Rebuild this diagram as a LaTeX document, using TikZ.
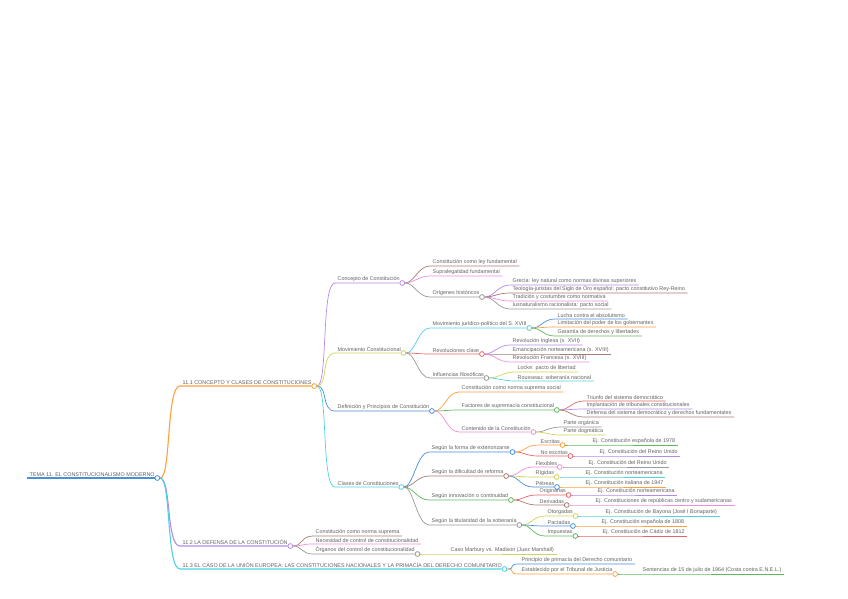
\documentclass[tikz,border=0pt]{standalone}
\usepackage{fontspec}
\setmainfont{Liberation Sans}
\usetikzlibrary{positioning}

\definecolor{mBlue}{HTML}{4A90D9}
\definecolor{mOrange}{HTML}{FFA040}
\definecolor{mPurple}{HTML}{B48CE8}
\definecolor{mBrown}{HTML}{A57C70}
\definecolor{mPink}{HTML}{EE8EDC}
\definecolor{mGray}{HTML}{9A9A9A}
\definecolor{mYellow}{HTML}{D2D25A}
\definecolor{mCyan}{HTML}{4FD3E3}
\definecolor{mRed}{HTML}{E86464}
\definecolor{mGreen}{HTML}{5DB85D}
\definecolor{txt}{HTML}{606060}

\begin{document}
\begin{tikzpicture}[x=1pt, y=-1pt,
    every node/.style={font=\fontsize{5.4}{6}\selectfont, text=txt},
    lbl/.style={anchor=south west, inner xsep=2.5pt, inner ysep=1.2pt},
    dot/.style={circle, draw=#1, fill=white, line width=0.8pt, minimum size=4.8pt, inner sep=0pt},
    br/.style={line width=0.7pt},
    main/.style={line width=1.1pt}]

  \useasboundingbox (0,0) rectangle (848,599);

  % root
  \node[lbl] (root) at (27,478) {TEMA 11. EL CONSTITUCIONALISMO MODERNO};
  \node[dot=mBlue] (rootD) at (root.south east) {};
  \draw[main, mBlue] (root.south west) -- (rootD);

  % level 1
  \node[lbl] (cc)  at (180,386) {11.1 CONCEPTO Y CLASES DE CONSTITUCIONES};
  \node[lbl] (def) at (180,546) {11.2 LA DEFENSA DE LA CONSTITUCIÓN};
  \node[lbl] (ue)  at (180,569) {11.3 EL CASO DE LA UNIÓN EUROPEA: LAS CONSTITUCIONES NACIONALES Y LA PRIMACÍA DEL DERECHO COMUNITARIO};
  \node[dot=mOrange] (ccD)  at (cc.south east) {};
  \node[dot=mPurple] (defD) at (def.south east) {};
  \node[dot=mCyan]   (ueD)  at (ue.south east) {};
  \draw[main, mOrange] (rootD) .. controls +(14,0) and +(-14,0) .. (cc.south west) -- (ccD);
  \draw[main, mPurple] (rootD) .. controls +(14,0) and +(-14,0) .. (def.south west) -- (defD);
  \draw[main, mCyan]   (rootD) .. controls +(14,0) and +(-14,0) .. (ue.south west) -- (ueD);

  % 11.1
  \node[lbl] (concepto) at (335,283) {Concepto de Constitución};
  \node[lbl] (movim)    at (335,353) {Movimiento Constitucional};
  \node[lbl] (definic)  at (335,411) {Definición y Principios de Constitución};
  \node[lbl] (clases)   at (335,487) {Clases de Constituciones};
  \node[dot=mPurple] (conceptoD) at (concepto.south east) {};
  \node[dot=mYellow] (movimD)    at (movim.south east) {};
  \node[dot=mBlue]   (definicD)  at (definic.south east) {};
  \node[dot=mCyan]   (clasesD)   at (clases.south east) {};
  \draw[br, mPurple] (ccD) .. controls +(14,0) and +(-14,0) .. (concepto.south west) -- (conceptoD);
  \draw[br, mYellow] (ccD) .. controls +(14,0) and +(-14,0) .. (movim.south west) -- (movimD);
  \draw[br, mBlue]   (ccD) .. controls +(14,0) and +(-14,0) .. (definic.south west) -- (definicD);
  \draw[br, mCyan]   (ccD) .. controls +(14,0) and +(-14,0) .. (clases.south west) -- (clasesD);

  % concepto
  \node[lbl] (ley)    at (430,266) {Constitución como ley fundamental};
  \node[lbl] (supra)  at (430,276) {Supralegalidad fundamental};
  \node[lbl] (origen) at (430,297) {Orígenes históricos};
  \node[dot=mGray] (origenD) at (origen.south east) {};
  \draw[br, mBrown] (conceptoD) .. controls +(12,0) and +(-12,0) .. (ley.south west) -- (ley.south east);
  \draw[br, mPink]  (conceptoD) .. controls +(12,0) and +(-12,0) .. (supra.south west) -- (supra.south east);
  \draw[br, mGray]  (conceptoD) .. controls +(12,0) and +(-12,0) .. (origen.south west) -- (origenD);

  \node[lbl] (grecia) at (510,285) {Grecia: ley natural como normas divinas superiores};
  \node[lbl] (teolog) at (510,293) {Teología-juristas del Siglo de Oro español: pacto constitutivo Rey-Reino};
  \node[lbl] (tradic) at (510,301) {Tradición y costumbre como normativa};
  \node[lbl] (iusnat) at (510,309) {Iusnaturalismo racionalista: pacto social};
  \draw[br, mPurple] (origenD) .. controls +(12,0) and +(-12,0) .. (grecia.south west) -- (grecia.south east);
  \draw[br, mBrown]  (origenD) .. controls +(12,0) and +(-12,0) .. (teolog.south west) -- (teolog.south east);
  \draw[br, mPink]   (origenD) .. controls +(12,0) and +(-12,0) .. (tradic.south west) -- (tradic.south east);
  \draw[br, mGray]   (origenD) .. controls +(12,0) and +(-12,0) .. (iusnat.south west) -- (iusnat.south east);

  % movimiento
  \node[lbl] (movjur) at (430,328) {Movimiento jurídico-político del S. XVIII};
  \node[lbl] (revol)  at (430,354) {Revoluciones clave};
  \node[lbl] (influ)  at (430,378) {Influencias filosóficas};
  \node[dot=mCyan] (movjurD) at (movjur.south east) {};
  \node[dot=mRed]  (revolD)  at (revol.south east) {};
  \node[dot=mGray] (influD)  at (influ.south east) {};
  \draw[br, mCyan] (movimD) .. controls +(12,0) and +(-12,0) .. (movjur.south west) -- (movjurD);
  \draw[br, mRed]  (movimD) .. controls +(12,0) and +(-12,0) .. (revol.south west) -- (revolD);
  \draw[br, mGray] (movimD) .. controls +(12,0) and +(-12,0) .. (influ.south west) -- (influD);

  \node[lbl] (lucha)  at (555,319) {Lucha contra el absolutismo};
  \node[lbl] (limit)  at (555,327) {Limitación del poder de los gobernantes};
  \node[lbl] (garant) at (555,336) {Garantía de derechos y libertades};
  \draw[br, mBlue]   (movjurD) .. controls +(12,0) and +(-12,0) .. (lucha.south west) -- (lucha.south east);
  \draw[br, mOrange] (movjurD) .. controls +(12,0) and +(-12,0) .. (limit.south west) -- (limit.south east);
  \draw[br, mGreen]  (movjurD) .. controls +(12,0) and +(-12,0) .. (garant.south west) -- (garant.south east);

  \node[lbl] (inglesa)  at (510,345) {Revolución Inglesa (s. XVII)};
  \node[lbl] (emancip)  at (510,354) {Emancipación norteamericana (s. XVIII)};
  \node[lbl] (francesa) at (510,362) {Revolución Francesa (s. XVIII)};
  \draw[br, mPurple] (revolD) .. controls +(12,0) and +(-12,0) .. (inglesa.south west) -- (inglesa.south east);
  \draw[br, mBrown]  (revolD) .. controls +(12,0) and +(-12,0) .. (emancip.south west) -- (emancip.south east);
  \draw[br, mPink]   (revolD) .. controls +(12,0) and +(-12,0) .. (francesa.south west) -- (francesa.south east);

  \node[lbl] (locke)    at (515,372) {Locke: pacto de libertad};
  \node[lbl] (rousseau) at (515,381) {Rousseau: soberanía nacional};
  \draw[br, mYellow] (influD) .. controls +(12,0) and +(-12,0) .. (locke.south west) -- (locke.south east);
  \draw[br, mCyan]   (influD) .. controls +(12,0) and +(-12,0) .. (rousseau.south west) -- (rousseau.south east);

  % definicion
  \node[lbl] (normasup)  at (459,392) {Constitución como norma suprema social};
  \node[lbl] (factores)  at (459,410) {Factores de supremacía constitucional};
  \node[lbl] (contenido) at (459,432) {Contenido de la Constitución};
  \node[dot=mGreen] (factoresD)  at (factores.south east) {};
  \node[dot=mPink]  (contenidoD) at (contenido.south east) {};
  \draw[br, mOrange] (definicD) .. controls +(12,0) and +(-12,0) .. (normasup.south west) -- (normasup.south east);
  \draw[br, mGreen]  (definicD) .. controls +(12,0) and +(-12,0) .. (factores.south west) -- (factoresD);
  \draw[br, mPink]   (definicD) .. controls +(12,0) and +(-12,0) .. (contenido.south west) -- (contenidoD);

  \node[lbl] (triunfo) at (584,401) {Triunfo del sistema democrático};
  \node[lbl] (tribun)  at (584,409) {Implantación de tribunales constitucionales};
  \node[lbl] (defensa) at (584,417) {Defensa del sistema democrático y derechos fundamentales};
  \draw[br, mRed]    (factoresD) .. controls +(12,0) and +(-12,0) .. (triunfo.south west) -- (triunfo.south east);
  \draw[br, mPurple] (factoresD) .. controls +(12,0) and +(-12,0) .. (tribun.south west) -- (tribun.south east);
  \draw[br, mBrown]  (factoresD) .. controls +(12,0) and +(-12,0) .. (defensa.south west) -- (defensa.south east);

  \node[lbl] (organica) at (561,427) {Parte orgánica};
  \node[lbl] (dogmat)   at (561,435) {Parte dogmática};
  \draw[br, mGray]   (contenidoD) .. controls +(12,0) and +(-12,0) .. (organica.south west) -- (organica.south east);
  \draw[br, mYellow] (contenidoD) .. controls +(12,0) and +(-12,0) .. (dogmat.south west) -- (dogmat.south east);

  % clases
  \node[lbl] (forma)   at (429,452) {Según la forma de exteriorizarse};
  \node[lbl] (dificul) at (429,476) {Según la dificultad de reforma};
  \node[lbl] (innov)   at (429,500) {Según innovación o continuidad};
  \node[lbl] (titular) at (429,525) {Según la titularidad de la soberanía};
  \node[dot=mBlue]  (formaD)   at (forma.south east) {};
  \node[dot=mBrown] (dificulD) at (dificul.south east) {};
  \node[dot=mGreen] (innovD)   at (innov.south east) {};
  \node[dot=mGray]  (titularD) at (titular.south east) {};
  \draw[br, mBlue]  (clasesD) .. controls +(12,0) and +(-12,0) .. (forma.south west) -- (formaD);
  \draw[br, mBrown] (clasesD) .. controls +(12,0) and +(-12,0) .. (dificul.south west) -- (dificulD);
  \draw[br, mGreen] (clasesD) .. controls +(12,0) and +(-12,0) .. (innov.south west) -- (innovD);
  \draw[br, mGray]  (clasesD) .. controls +(12,0) and +(-12,0) .. (titular.south west) -- (titularD);

  \node[lbl] (escritas) at (538,445) {Escritas};
  \node[lbl] (noescr)   at (538,456) {No escritas};
  \node[dot=mOrange] (escritasD) at (escritas.south east) {};
  \node[dot=mRed]    (noescrD)   at (noescr.south east) {};
  \draw[br, mOrange] (formaD) .. controls +(12,0) and +(-12,0) .. (escritas.south west) -- (escritasD);
  \draw[br, mRed]    (formaD) .. controls +(12,0) and +(-12,0) .. (noescr.south west) -- (noescrD);
  \node[lbl] (ejEsp) at (590,445) {Ej. Constitución española de 1978};
  \node[lbl] (ejRU)  at (597,456) {Ej. Constitución del Reino Unido};
  \draw[br, mGreen]  (escritasD) .. controls +(12,0) and +(-12,0) .. (ejEsp.south west) -- (ejEsp.south east);
  \draw[br, mPurple] (noescrD) .. controls +(12,0) and +(-12,0) .. (ejRU.south west) -- (ejRU.south east);

  \node[lbl] (flex)    at (533,467) {Flexibles};
  \node[lbl] (rigid)   at (533,477) {Rígidas};
  \node[lbl] (petreas) at (533,487) {Pétreas};
  \node[dot=mPink]   (flexD)    at (flex.south east) {};
  \node[dot=mYellow] (rigidD)   at (rigid.south east) {};
  \node[dot=mBlue]   (petreasD) at (petreas.south east) {};
  \draw[br, mPink]   (dificulD) .. controls +(12,0) and +(-12,0) .. (flex.south west) -- (flexD);
  \draw[br, mYellow] (dificulD) .. controls +(12,0) and +(-12,0) .. (rigid.south west) -- (rigidD);
  \draw[br, mBlue]   (dificulD) .. controls +(12,0) and +(-12,0) .. (petreas.south west) -- (petreasD);
  \node[lbl] (ejFlex) at (586,467) {Ej. Constitución del Reino Unido};
  \node[lbl] (ejRig)  at (583,477) {Ej. Constitución norteamericana};
  \node[lbl] (ejPet)  at (583,487) {Ej. Constitución italiana de 1947};
  \draw[br, mGray]   (flexD) .. controls +(12,0) and +(-12,0) .. (ejFlex.south west) -- (ejFlex.south east);
  \draw[br, mCyan]   (rigidD) .. controls +(12,0) and +(-12,0) .. (ejRig.south west) -- (ejRig.south east);
  \draw[br, mOrange] (petreasD) .. controls +(12,0) and +(-12,0) .. (ejPet.south west) -- (ejPet.south east);

  \node[lbl] (orig)  at (537,495) {Originarias};
  \node[lbl] (deriv) at (537,505) {Derivadas};
  \node[dot=mRed]   (origD)  at (orig.south east) {};
  \node[dot=mBrown] (derivD) at (deriv.south east) {};
  \draw[br, mRed]   (innovD) .. controls +(12,0) and +(-12,0) .. (orig.south west) -- (origD);
  \draw[br, mBrown] (innovD) .. controls +(12,0) and +(-12,0) .. (deriv.south west) -- (derivD);
  \node[lbl] (ejOrig)  at (595,495) {Ej. Constitución norteamericana};
  \node[lbl] (ejDeriv) at (593,505) {Ej. Constituciones de repúblicas centro y sudamericanas};
  \draw[br, mPurple] (origD) .. controls +(12,0) and +(-12,0) .. (ejOrig.south west) -- (ejOrig.south east);
  \draw[br, mPink]   (derivD) .. controls +(12,0) and +(-12,0) .. (ejDeriv.south west) -- (ejDeriv.south east);

  \node[lbl] (otorg) at (545,516) {Otorgadas};
  \node[lbl] (pact)  at (545,526) {Pactadas};
  \node[lbl] (impu)  at (545,536) {Impuestas};
  \node[dot=mYellow] (otorgD) at (otorg.south east) {};
  \node[dot=mBlue]   (pactD)  at (pact.south east) {};
  \node[dot=mGreen]  (impuD)  at (impu.south east) {};
  \draw[br, mYellow] (titularD) .. controls +(12,0) and +(-12,0) .. (otorg.south west) -- (otorgD);
  \draw[br, mBlue]   (titularD) .. controls +(12,0) and +(-12,0) .. (pact.south west) -- (pactD);
  \draw[br, mGreen]  (titularD) .. controls +(12,0) and +(-12,0) .. (impu.south west) -- (impuD);
  \node[lbl] (ejOtorg) at (603,516) {Ej. Constitución de Bayona (José I Bonaparte)};
  \node[lbl] (ejPact)  at (599,526) {Ej. Constitución española de 1808};
  \node[lbl] (ejImpu)  at (600,536) {Ej. Constitución de Cádiz de 1812};
  \draw[br, mCyan]   (otorgD) .. controls +(12,0) and +(-12,0) .. (ejOtorg.south west) -- (ejOtorg.south east);
  \draw[br, mOrange] (pactD) .. controls +(12,0) and +(-12,0) .. (ejPact.south west) -- (ejPact.south east);
  \draw[br, mRed]    (impuD) .. controls +(12,0) and +(-12,0) .. (ejImpu.south west) -- (ejImpu.south east);

  % 11.2
  \node[lbl] (normaDef) at (313,536) {Constitución como norma suprema};
  \node[lbl] (necesid)  at (313,544) {Necesidad de control de constitucionalidad};
  \node[lbl] (organos)  at (313,554) {Órganos del control de constitucionalidad};
  \node[dot=mGray] (organosD) at (organos.south east) {};
  \draw[br, mBrown] (defD) .. controls +(12,0) and +(-12,0) .. (normaDef.south west) -- (normaDef.south east);
  \draw[br, mPink]  (defD) .. controls +(12,0) and +(-12,0) .. (necesid.south west) -- (necesid.south east);
  \draw[br, mGray]  (defD) .. controls +(12,0) and +(-12,0) .. (organos.south west) -- (organosD);
  \node[lbl] (marbury) at (448,554) {Caso Marbury vs. Madison (Juez Marshall)};
  \draw[br, mYellow] (organosD) .. controls +(12,0) and +(-12,0) .. (marbury.south west) -- (marbury.south east);

  % 11.3
  \node[lbl] (primacia) at (519,564) {Principio de primacía del Derecho comunitario};
  \node[lbl] (tribjus)  at (519,574) {Establecido por el Tribunal de Justicia};
  \node[dot=mOrange] (tribjusD) at (tribjus.south east) {};
  \draw[br, mBlue]   (ueD) .. controls +(12,0) and +(-12,0) .. (primacia.south west) -- (primacia.south east);
  \draw[br, mOrange] (ueD) .. controls +(12,0) and +(-12,0) .. (tribjus.south west) -- (tribjusD);
  \node[lbl] (sentenc) at (640,574) {Sentencias de 15 de julio de 1964 (Costa contra E.N.E.L.)};
  \draw[br, mGreen] (tribjusD) .. controls +(12,0) and +(-12,0) .. (sentenc.south west) -- (sentenc.south east);
\end{tikzpicture}
\end{document}
